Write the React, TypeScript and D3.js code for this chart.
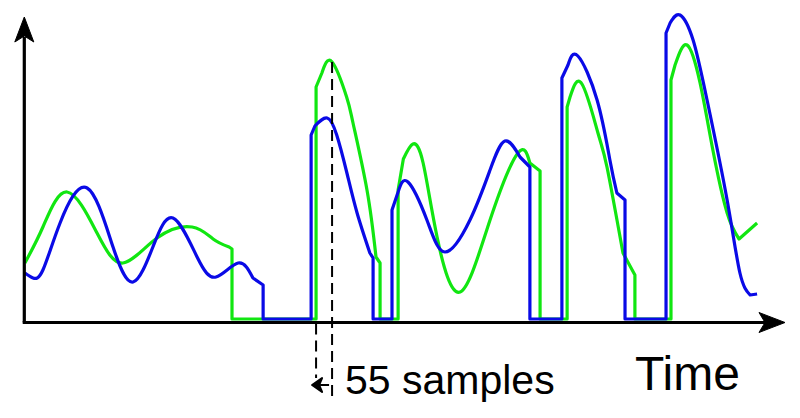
import React from "react";
import * as d3 from "d3";

const W = 800;
const H = 418;

type Pt = [number, number];

// [sample index, amplitude]; each run goes from the top of its rising edge to its falling edge.
// First and last points of a run are joined by straight pieces, the rest is smooth.
const blueRuns: Pt[][] = [
  [[3, 46], [31, 41], [65, 49], [124, 96], [217, 131], [306, 72], [375, 37], [443, 72], [512, 101], [595, 62], [660, 42], [736, 56], [787, 41], [822, 34]],
  [[987, 184], [1000, 193], [1042, 201], [1075, 184], [1110, 146], [1145, 106], [1189, 66], [1200, 61]],
  [[1265, 109], [1286, 127], [1320, 137], [1385, 99], [1447, 67], [1533, 99], [1602, 149], [1653, 178], [1705, 162], [1739, 152]],
  [[1849, 241], [1870, 254], [1904, 263], [1970, 219], [2014, 159], [2038, 126], [2066, 119]],
  [[2207, 286], [2221, 296], [2255, 304], [2300, 279], [2348, 219], [2417, 119], [2461, 46], [2496, 24], [2520, 25]],
];

const greenRuns: Pt[][] = [
  [[3, 56], [65, 92], [148, 127], [251, 86], [340, 56], [457, 81], [578, 92], [650, 80], [705, 72], [715, 70]],
  [[1004, 232], [1024, 246], [1059, 257], [1109, 222], [1131, 196], [1179, 129], [1210, 62], [1224, 56]],
  [[1286, 129], [1304, 160], [1337, 175], [1372, 156], [1420, 82], [1499, 27], [1602, 99], [1698, 166], [1739, 156], [1774, 148]],
  [[1867, 212], [1877, 222], [1918, 235], [1973, 186], [2004, 152], [2059, 66], [2100, 44]],
  [[2224, 239], [2238, 254], [2279, 274], [2324, 236], [2368, 169], [2417, 106], [2458, 80], [2520, 96]],
];

// delay marker (sample positions of the two dashed lines)
const delayStart = 1004;
const delayEnd = 1059;
const delayPeakAmp = 257;
const delayLabel = "55 samples";
const xAxisLabel = "Time";

const x = d3.scaleLinear().domain([0, 2612.5]).range([24, 784]);
const y = d3.scaleLinear().domain([0, 319]).range([319, 0]);

const smooth = d3
  .line<Pt>()
  .x((d) => x(d[0]))
  .y((d) => y(d[1]))
  .curve(d3.curveNatural);

function buildPath(runs: Pt[][]): string {
  let d = "";
  runs.forEach((run, i) => {
    const n = run.length;
    const first = run[0];
    const last = run[n - 1];
    const curvePts = run.slice(i === 0 ? 0 : 1, n - 1);
    const seg = (smooth(curvePts) || "").replace(/^M/, "L");
    if (i === 0) {
      d += "M" + seg.slice(1);
    } else {
      const prev = runs[i - 1];
      const px = x(prev[prev.length - 1][0]);
      d += `L${px},${y(0)}L${x(first[0])},${y(0)}L${x(first[0])},${y(first[1])}` + seg;
    }
    d += `L${x(last[0])},${y(last[1])}`;
  });
  return d;
}

export default function App() {
  const axisY = 322.5;
  const axisX = 24.3;
  const xa = x(delayStart);
  const xb = x(delayEnd);
  const arrowY = 385;
  return (
    <svg
      width={W}
      height={H}
      viewBox={`0 0 ${W} ${H}`}
      style={{ position: "absolute", left: 0, top: 0, display: "block", background: "#fff" }}
      fontFamily="'Liberation Sans', Arial, sans-serif"
    >
      <rect width={W} height={H} fill="#fff" />
      {/* series */}
      <path d={buildPath(greenRuns)} fill="none" stroke="#11e611" strokeWidth={3.2} strokeLinejoin="round" />
      <path d={buildPath(blueRuns)} fill="none" stroke="#0a0ae6" strokeWidth={3.2} strokeLinejoin="round" />
      {/* axes */}
      <line x1={axisX} y1={axisY} x2={axisX} y2={37} stroke="#000" strokeWidth={3.2} />
      <line x1={axisX - 1.6} y1={axisY} x2={765} y2={axisY} stroke="#000" strokeWidth={3.2} />
      <path d={`M${axisX},17L${axisX + 9.5},42L${axisX},36L${axisX - 9.5},42Z`} fill="#000" stroke="#000" strokeWidth={1} strokeLinejoin="round" />
      <path d={`M785,${axisY}L759,${axisY - 10}L765,${axisY}L759,${axisY + 10}Z`} fill="#000" stroke="#000" strokeWidth={1} strokeLinejoin="round" />
      {/* delay markers */}
      <line x1={xa} y1={axisY + 1} x2={xa} y2={378} stroke="#000" strokeWidth={2} strokeDasharray="11,6" />
      <line x1={xb} y1={y(delayPeakAmp)} x2={xb} y2={396} stroke="#000" strokeWidth={2} strokeDasharray="11,6" />
      <line x1={xb - 3} y1={arrowY} x2={xa + 4} y2={arrowY} stroke="#000" strokeWidth={2} />
      <path d={`M${xa - 4},${arrowY}L${xa + 6},${arrowY - 7}L${xa + 3},${arrowY}L${xa + 6},${arrowY + 7}Z`} fill="#000" stroke="#000" strokeWidth={2} strokeLinejoin="round" />
      {/* labels */}
      <text x={345} y={394} fontSize={41} fill="#000">{delayLabel}</text>
      <text x={635} y={390} fontSize={48} fill="#000">{xAxisLabel}</text>
    </svg>
  );
}
